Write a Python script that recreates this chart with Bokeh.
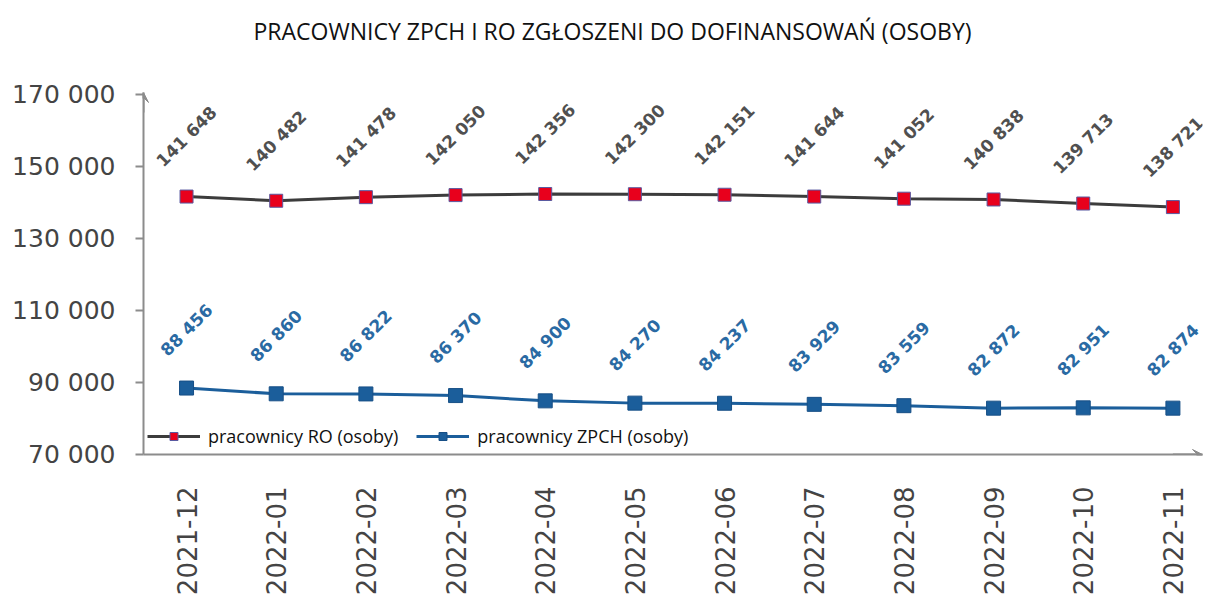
import math
from bokeh.plotting import figure
from bokeh.models import Range1d, FixedTicker, ColumnDataSource, Arrow, VeeHead, Legend, LegendItem, Title
from bokeh.core.properties import value
from bokeh.embed import file_html
from bokeh.resources import INLINE

months = ["2021-12", "2022-01", "2022-02", "2022-03", "2022-04", "2022-05",
          "2022-06", "2022-07", "2022-08", "2022-09", "2022-10", "2022-11"]
ro_values = [141648, 140482, 141478, 142050, 142356, 142300,
             142151, 141644, 141052, 140838, 139713, 138721]
zpch_values = [88456, 86860, 86822, 86370, 84900, 84270,
               84237, 83929, 83559, 82872, 82951, 82874]
y_ticks = [70000, 90000, 110000, 130000, 150000, 170000]

def fmt(v):
    return f"{v:,}".replace(",", " ")

title_text = "PRACOWNICY ZPCH I RO ZGŁOSZENI DO DOFINANSOWAŃ (OSOBY)"

x_idx = list(range(len(months)))
src = ColumnDataSource(dict(
    x=x_idx, ro=ro_values, zp=zpch_values,
    ro_lbl=[fmt(v) for v in ro_values],
    zp_lbl=[fmt(v) for v in zpch_values],
))

Y0, Y1 = 70000, 170550
p = figure(width=1206, height=598, output_backend="svg", toolbar_location=None,
           title=None,
           x_range=Range1d(-0.48, 11.33), y_range=Range1d(Y0, Y1),
           min_border_left=143, min_border_right=4, min_border_top=92, min_border_bottom=142)

spacer = Title(text=" ", text_font="Open Sans", text_font_size="25px", standoff=0)
main_title = Title(text=title_text, align="left", text_font="Open Sans",
                   text_font_size="23px", text_font_style="normal",
                   text_color="#111111", standoff=19, offset=110)
p.add_layout(spacer, "above")
p.add_layout(main_title, "above")

p.grid.visible = False
p.outline_line_color = None
p.background_fill_color = "white"

axis_color = "#8c8c8c"
# y axis
p.yaxis.ticker = FixedTicker(ticks=y_ticks)
p.yaxis.major_label_overrides = {t: fmt(t) for t in y_ticks}
p.yaxis.major_label_text_font = "DejaVu Sans"
p.yaxis.major_label_text_font_size = "25px"
p.yaxis.major_label_text_color = "#444444"
p.yaxis.major_tick_out = 8
p.yaxis.major_tick_in = 0
p.yaxis.minor_tick_line_color = None
p.yaxis.axis_line_color = axis_color
p.yaxis.axis_line_width = 2
p.yaxis.major_tick_line_color = axis_color
p.yaxis.major_tick_line_width = 2
p.yaxis.major_label_standoff = 20

# x axis
p.xaxis.ticker = FixedTicker(ticks=x_idx)
p.xaxis.major_label_overrides = {i: m for i, m in enumerate(months)}
p.xaxis.major_label_orientation = math.pi / 2
p.xaxis.major_label_text_font = "DejaVu Sans"
p.xaxis.major_label_text_font_size = "26px"
p.xaxis.major_label_text_color = "#444444"
p.xaxis.major_tick_line_color = None
p.xaxis.minor_tick_line_color = None
p.xaxis.axis_line_color = axis_color
p.xaxis.axis_line_width = 2
p.xaxis.major_label_standoff = 26

# arrow heads on axes
p.add_layout(Arrow(end=VeeHead(size=10, line_color=axis_color, fill_color=axis_color),
                   x_start=-0.48, y_start=165000, x_end=-0.48, y_end=Y1,
                   line_color=axis_color, line_width=2))
p.add_layout(Arrow(end=VeeHead(size=10, line_color=axis_color, fill_color=axis_color),
                   x_start=11.0, y_start=Y0, x_end=11.33, y_end=Y0,
                   line_color=axis_color, line_width=2))

ro_line_color = "#3c3c3c"
zp_color = "#1b5e9b"

r1 = p.line("x", "ro", source=src, line_color=ro_line_color, line_width=3)
r2 = p.scatter("x", "ro", source=src, marker="square", size=13,
               fill_color="#e8001c", line_color="#5a5aa0", line_width=1)
r3 = p.line("x", "zp", source=src, line_color=zp_color, line_width=3)
r4 = p.scatter("x", "zp", source=src, marker="square", size=14,
               fill_color=zp_color, line_color="#174f86", line_width=1)

p.text("x", "ro", text="ro_lbl", source=src, angle=math.pi / 4,
       text_align="center", text_baseline="middle", y_offset=-60,
       text_font=value("DejaVu Sans"), text_font_size="17px",
       text_font_style="bold", text_color="#505050")
p.text("x", "zp", text="zp_lbl", source=src, angle=math.pi / 4,
       text_align="center", text_baseline="middle", y_offset=-58,
       text_font=value("DejaVu Sans"), text_font_size="17px",
       text_font_style="bold", text_color="#2a6aa3")

legend = Legend(items=[
    LegendItem(label="pracownicy RO (osoby)", renderers=[r1, r2]),
    LegendItem(label="pracownicy ZPCH (osoby)", renderers=[r3, r4]),
], orientation="horizontal", location=(-4, -2))
legend.background_fill_alpha = 0
legend.border_line_alpha = 0
legend.glyph_width = 53
legend.label_text_font = "Open Sans"
legend.label_text_font_size = "18px"
legend.label_text_color = "#111111"
legend.spacing = 18
legend.padding = 8
legend.margin = 0
legend.label_standoff = 8
p.add_layout(legend, "center")

open("out.html", "w").write(file_html(p, INLINE))
